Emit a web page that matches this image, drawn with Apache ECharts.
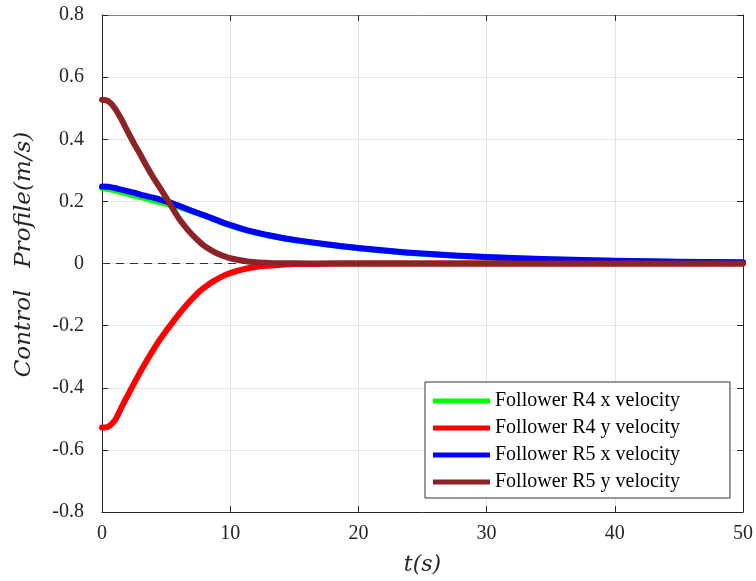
<!DOCTYPE html>
<html>
<head>
<meta charset="utf-8">
<script src="https://cdn.jsdelivr.net/npm/echarts@6/dist/echarts.min.js"></script>
<style>
  html, body { margin: 0; padding: 0; background: #fff; }
  #chart { width: 756px; height: 581px; }
</style>
</head>
<body>
<div id="chart"></div>
<script>
// Time samples (s)
const timeS = [0, 0.5, 1, 1.5, 2, 2.5, 3, 3.5, 4, 4.5, 5, 5.5, 6, 6.5, 7, 7.5, 8, 8.5, 9, 9.5,
  10, 11, 12, 13, 14, 15, 17.5, 20, 22.5, 25, 27.5, 30, 35, 40, 45, 50];

// Follower R4 x velocity (m/s)
const r4x = [0.243, 0.240, 0.235, 0.230, 0.225, 0.219, 0.214, 0.208, 0.203, 0.198, 0.193, 0.188,
  0.182, 0.175, 0.168, 0.161, 0.154, 0.146, 0.138, 0.130, 0.123, 0.110, 0.099, 0.090, 0.082,
  0.075, 0.061, 0.049, 0.039, 0.031, 0.025, 0.020, 0.013, 0.008, 0.005, 0.003];

// Follower R4 y velocity (m/s)
const r4y = [-0.528, -0.525, -0.505, -0.465, -0.425, -0.386, -0.348, -0.312, -0.278, -0.246,
  -0.217, -0.190, -0.163, -0.138, -0.115, -0.094, -0.077, -0.062, -0.050, -0.039, -0.031,
  -0.019, -0.011, -0.007, -0.004, -0.002, -0.001, 0, 0, 0, 0, 0, 0, 0, 0, 0];

// Follower R5 x velocity (m/s)
const r5x = [0.248, 0.247, 0.243, 0.238, 0.233, 0.228, 0.222, 0.217, 0.212, 0.206, 0.200, 0.194,
  0.186, 0.178, 0.170, 0.162, 0.155, 0.147, 0.139, 0.131, 0.124, 0.111, 0.100, 0.091, 0.083,
  0.076, 0.062, 0.050, 0.040, 0.032, 0.026, 0.021, 0.014, 0.009, 0.006, 0.004];

// Follower R5 y velocity (m/s)
const r5y = [0.527, 0.522, 0.500, 0.465, 0.425, 0.386, 0.350, 0.312, 0.277, 0.245, 0.212, 0.178,
  0.145, 0.118, 0.094, 0.074, 0.056, 0.043, 0.032, 0.024, 0.017, 0.009, 0.004, 0.002, 0.001,
  0.0005, 0, 0, 0, 0, 0, 0, 0, 0, 0, 0];

const seriesNames = ['Follower R4 x velocity', 'Follower R4 y velocity',
  'Follower R5 x velocity', 'Follower R5 y velocity'];
const seriesColors = ['#00ff00', '#ff0000', '#0000ff', '#8c2327'];
const seriesValues = [r4x, r4y, r5x, r5y];

const xTicks = { min: 0, max: 50, interval: 10 };
const yTicks = { min: -0.8, max: 0.8, interval: 0.2 };

const serif = '"Liberation Serif", "DejaVu Serif", serif';
const mathSerif = '"DejaVu Serif", "Liberation Serif", serif';
const axisDark = '#262626';
const gridGray = '#e3e3e3';

const pairs = (ys) => timeS.map((t, i) => [t, ys[i]]);

const series = seriesValues.map((vals, k) => ({
  name: seriesNames[k],
  type: 'line',
  data: pairs(vals),
  showSymbol: false,
  symbol: 'none',
  smooth: 0.3,
  color: seriesColors[k],
  lineStyle: { width: 6, color: seriesColors[k], cap: 'round', join: 'round' },
  z: 3 + k,
  animation: false
}));

// zero reference line
series[0].markLine = {
  silent: true,
  symbol: 'none',
  label: { show: false },
  lineStyle: { color: '#333', type: [8, 6], width: 1 },
  data: [{ yAxis: 0 }],
  z: 2
};

const chart = echarts.init(document.getElementById('chart'), null, { renderer: 'canvas' });
chart.setOption({
  backgroundColor: '#ffffff',
  animation: false,
  grid: { left: 102, right: 9, top: 15, bottom: 69, containLabel: false },
  legend: {
    orient: 'vertical',
    left: 425,
    top: 382,
    icon: 'rect',
    itemWidth: 57,
    itemHeight: 5,
    itemGap: 7,
    padding: [9, 50, 6, 8],
    backgroundColor: '#ffffff',
    borderColor: '#333',
    borderWidth: 1,
    borderRadius: 0,
    textStyle: { fontFamily: serif, fontSize: 20, color: '#000', lineHeight: 20 },
    data: seriesNames
  },
  xAxis: [{
    type: 'value',
    min: xTicks.min, max: xTicks.max, interval: xTicks.interval,
    name: 't(s)',
    nameLocation: 'middle',
    nameGap: 42,
    nameTextStyle: { fontFamily: mathSerif, fontStyle: 'italic', fontSize: 22, color: axisDark },
    axisLine: { show: true, onZero: false, lineStyle: { color: axisDark, width: 1 } },
    axisTick: { show: true, inside: true, length: 6, lineStyle: { color: axisDark } },
    axisLabel: { fontFamily: serif, fontSize: 20, color: axisDark, margin: 12 },
    splitLine: { show: true, lineStyle: { color: gridGray, width: 1 } }
  }, {
    type: 'value', position: 'top',
    min: xTicks.min, max: xTicks.max, interval: xTicks.interval,
    axisLine: { show: true, onZero: false, lineStyle: { color: '#7f7f7f', width: 1 } },
    axisTick: { show: true, inside: true, length: 6, lineStyle: { color: axisDark } },
    axisLabel: { show: false },
    splitLine: { show: false }
  }],
  yAxis: [{
    type: 'value',
    min: yTicks.min, max: yTicks.max, interval: yTicks.interval,
    name: 'Control   Profile(m/s)',
    nameLocation: 'middle',
    nameGap: 66,
    nameTextStyle: {
      fontFamily: mathSerif, fontStyle: 'italic', fontSize: 23, color: axisDark,
      padding: [0, 0, 0, 18]
    },
    axisLine: { show: true, onZero: false, lineStyle: { color: axisDark, width: 1 } },
    axisTick: { show: true, inside: true, length: 6, lineStyle: { color: axisDark } },
    axisLabel: {
      fontFamily: serif, fontSize: 20, color: axisDark, margin: 18,
      formatter: (v) => (Math.abs(v) < 1e-9 ? '0' : v.toFixed(1))
    },
    splitLine: { show: true, lineStyle: { color: gridGray, width: 1 } }
  }, {
    type: 'value', position: 'right',
    min: yTicks.min, max: yTicks.max, interval: yTicks.interval,
    axisLine: { show: true, onZero: false, lineStyle: { color: axisDark, width: 1 } },
    axisTick: { show: true, inside: true, length: 6, lineStyle: { color: axisDark } },
    axisLabel: { show: false },
    splitLine: { show: false }
  }],
  series: series
});
</script>
</body>
</html>
